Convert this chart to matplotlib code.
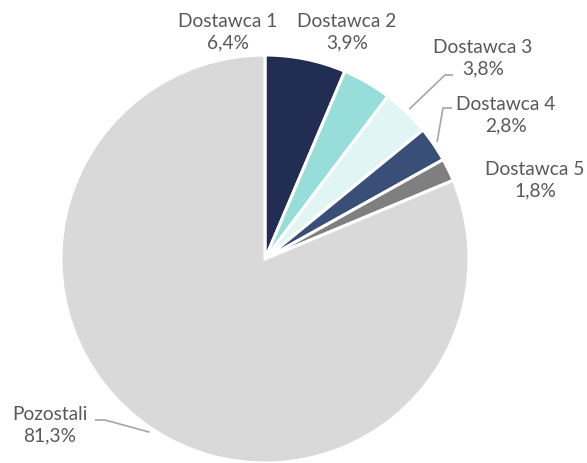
import matplotlib
matplotlib.use("Agg")
import matplotlib.pyplot as plt
import numpy as np

labels = ["Dostawca 1", "Dostawca 2", "Dostawca 3", "Dostawca 4", "Dostawca 5", "Pozostali"]
values = [6.4, 3.9, 3.8, 2.8, 1.8, 81.3]
colors = ["#212D52", "#97DDD9", "#E1F5F5", "#3A4F78", "#7F7F7F", "#D9D9D9"]

W, H = 587, 463
cx, cy, R = 265, 259, 204  # pixel centre and radius of the pie

fig = plt.figure(figsize=(W / 100, H / 100), dpi=100)
ax = fig.add_axes([0, 0, 1, 1])
wedges, _ = ax.pie(values, colors=colors, startangle=90, counterclock=False,
                   radius=1.0, wedgeprops=dict(edgecolor="white", linewidth=2.2))
ax.set_xlim(-cx / R, (W - cx) / R)
ax.set_ylim(-(H - cy) / R, cy / R)
ax.set_aspect("equal")
ax.axis("off")

def px(x, y):
    return ((x - cx) / R, (cy - y) / R)

# label centres (pixels) and leader-line corner points (pixels)
label_pos = [(228, 32), (347, 32), (483, 58), (506, 115), (535, 180), (50, 425)]
leaders = {2: [(453, 75), (445, 75)], 3: [(452, 108), (443, 108)], 5: [(95, 420), (105, 420)]}

txtcol = "#595959"
for i, (lab, v) in enumerate(zip(labels, values)):
    x, y = px(*label_pos[i])
    ax.text(x, y, f"{lab}\n{v:.1f}%".replace(".", ","), ha="center", va="center",
            fontsize=13.8, color=txtcol, family=["Lato", "DejaVu Sans"], linespacing=1.3)
    if i in leaders:
        w = wedges[i]
        ang = np.deg2rad((w.theta1 + w.theta2) / 2)
        r_end = 1.02
        pts = [px(*p) for p in leaders[i]] + [(r_end * np.cos(ang), r_end * np.sin(ang))]
        xs, ys = zip(*pts)
        ax.plot(xs, ys, color="#A6A6A6", lw=1.2, solid_capstyle="butt")

fig.savefig("out.png", dpi=100)
